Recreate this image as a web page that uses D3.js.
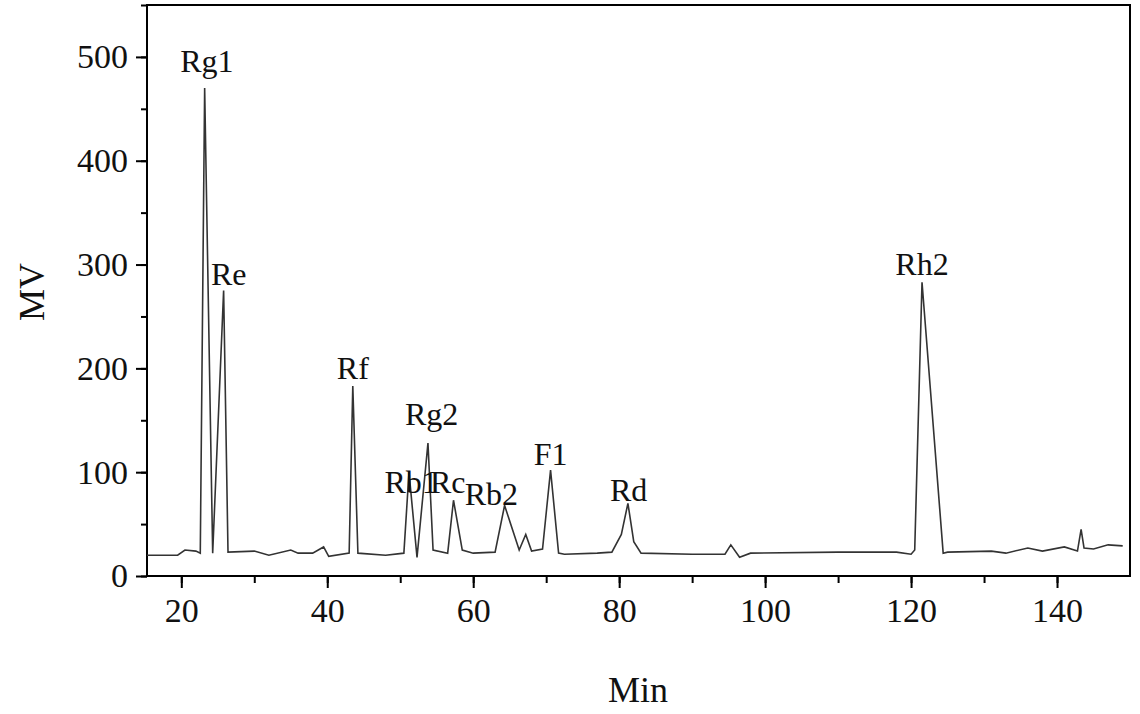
<!DOCTYPE html>
<html><head><meta charset="utf-8">
<script src="https://cdn.jsdelivr.net/npm/d3@7"></script>
<style>body{margin:0;background:#fff}svg{font-family:"Liberation Serif","Times New Roman",serif}</style>
</head><body><svg id="c" width="1140" height="714"></svg>
<script>
const times = [15.3,19.5,20.5,22,22.6,23.2,24.3,25.8,26.4,30,32,35,36,38,39.5,40.2,43,43.5,44.2,48,50.5,51.2,52.3,53.8,54.5,56.5,57.3,58.5,60,63,64.3,66.3,67.2,68,69.5,70.6,71.7,72.5,77,79,80.3,81.2,82,83,90,94.5,95.3,96.5,98,110,118,120,120.5,121.5,124.4,125,131,133,136,138,141,142.8,143.3,143.7,145,147,149];
const signal = [20,20,25,24,22,470,22,275,23,24,20,25,22,22,28,19,22,183,22,20,22,100,18,128,25,22,73,25,22,23,68,25,40,24,26,102,22,21,22,23,40,70,33,22,21,21,30,18,22,23,23,21,25,283,22,23,24,22,27,24,28,24,45,27,26,30,29];
const peakNames = ["Rg1","Re","Rf","Rb1","Rg2","Rc","Rb2","F1","Rd","Rh2"];
const peakLabelX = [23.5,26.5,43.5,51.5,54.3,56.5,62.5,70.6,81.3,121.5];
const peakLabelY = [485,280,190,80,145,80,68,107,72,290];
const xTicks = [20,40,60,80,100,120,140];
const yTicks = [0,100,200,300,400,500];

const svg = d3.select("#c");
const L=147,R=1130,T=5,B=576;
const x = d3.scaleLinear().domain([15.3,150]).range([L,R]);
const y = d3.scaleLinear().domain([0,550]).range([B,T]);

svg.append("rect").attr("x",L).attr("y",T).attr("width",R-L).attr("height",B-T)
  .attr("fill","none").attr("stroke","#000").attr("stroke-width",2);

const gx = svg.append("g").attr("transform",`translate(0,${B})`);
gx.call(d3.axisBottom(x).tickValues(d3.range(20,150,10)).tickSize(7).tickFormat(""));
gx.selectAll(".tick line").attr("stroke-width",2);
const gx2 = svg.append("g").attr("transform",`translate(0,${B})`);
gx2.call(d3.axisBottom(x).tickValues(xTicks).tickSize(12).tickPadding(10).tickFormat(d3.format("d")));
gx2.selectAll("text").attr("font-size",34).attr("font-family","Liberation Serif").attr("fill","#111");
gx2.selectAll(".tick line").attr("stroke-width",2);
svg.selectAll(".domain").remove();

const gy = svg.append("g").attr("transform",`translate(${L},0)`);
gy.call(d3.axisLeft(y).tickValues(d3.range(0,551,50)).tickSize(6).tickFormat(""));
gy.selectAll(".tick line").attr("stroke-width",2);
const gy2 = svg.append("g").attr("transform",`translate(${L},0)`);
gy2.call(d3.axisLeft(y).tickValues(yTicks).tickSize(11).tickPadding(8).tickFormat(d3.format("d")));
gy2.selectAll("text").attr("font-size",34).attr("font-family","Liberation Serif").attr("fill","#111");
gy2.selectAll(".tick line").attr("stroke-width",2);
svg.selectAll(".domain").remove();

const data = times.map((t,i)=>[t,signal[i]]);
svg.append("path").datum(data).attr("fill","none").attr("stroke","#333").attr("stroke-width",1.6)
  .attr("d",d3.line().x(d=>x(d[0])).y(d=>y(d[1])));

svg.selectAll(".pl").data(peakNames).join("text")
  .attr("x",(d,i)=>x(peakLabelX[i])).attr("y",(d,i)=>y(peakLabelY[i]))
  .attr("text-anchor","middle").attr("font-size",32).attr("fill","#111").text(d=>d);

svg.append("text").attr("x",638).attr("y",702).attr("text-anchor","middle").attr("font-size",36).attr("fill","#111").text("Min");
svg.append("text").attr("transform","translate(44,292) rotate(-90)").attr("text-anchor","middle").attr("font-size",36).attr("fill","#111").text("MV");
</script></body></html>
